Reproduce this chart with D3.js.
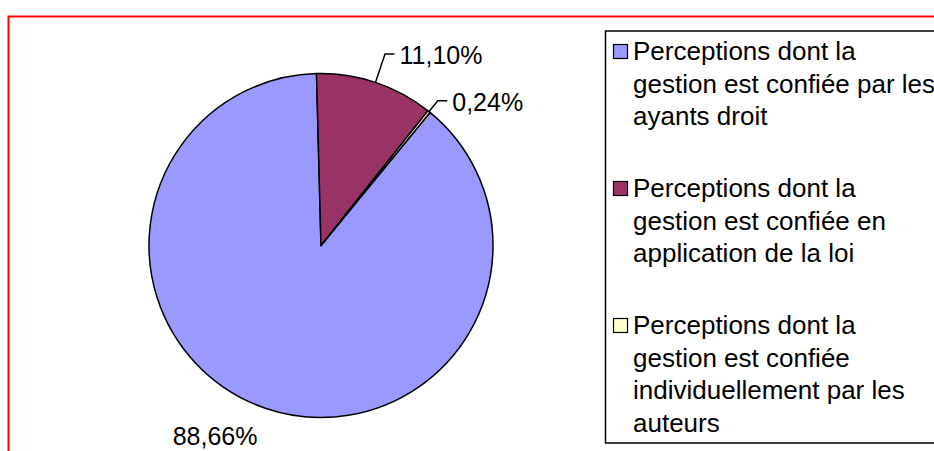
<!DOCTYPE html>
<html>
<head>
<meta charset="utf-8">
<script src="https://cdn.jsdelivr.net/npm/d3@7"></script>
<style>
  body { margin: 0; background: #fff; }
  svg { display: block; font-family: "Liberation Sans", Arial, sans-serif; }
</style>
</head>
<body>
<svg id="chart" width="934" height="451"></svg>
<script>
// data
let categories = [
    "Perceptions dont la gestion est confiée par les ayants droit",
    "Perceptions dont la gestion est confiée en application de la loi",
    "Perceptions dont la gestion est confiée individuellement par les auteurs"
];
let legendLines = [
    ["Perceptions dont la", "gestion est confiée par les", "ayants droit"],
    ["Perceptions dont la", "gestion est confiée en", "application de la loi"],
    ["Perceptions dont la", "gestion est confiée", "individuellement par les", "auteurs"]
];
let values = [88.66, 11.10, 0.24];
let valueLabels = ["88,66%", "11,10%", "0,24%"];
let colors = ["#9999FF", "#993366", "#FFFFCC"];

let width = 934, height = 451;
let cx = 321, cy = 245.5, radius = 172;
let svg = d3.select('#chart');

// red frame round the plot
svg.append('rect')
    .attr('x', 8.5).attr('y', 16.5)
    .attr('width', 960).attr('height', 480)
    .attr('fill', 'none')
    .attr('stroke', '#ff0000')
    .attr('stroke-width', 2);

// rotation so the purple slice starts just left of 12 o'clock
let start = 39.32 * Math.PI / 180;
let pie = d3.pie().sort(null).value(d => d)
    .startAngle(start).endAngle(start + 2 * Math.PI);
let arcs = pie(values);
let arc = d3.arc().innerRadius(0).outerRadius(radius);

let g = svg.append('g').attr('transform', `translate(${cx},${cy})`);

g.selectAll('.slice')
    .data(arcs)
    .enter().append('path')
    .attr('class', 'slice')
    .attr('d', arc)
    .attr('fill', (d, i) => colors[i])
    .attr('stroke', '#000')
    .attr('stroke-width', 1.5)
    .attr('stroke-linejoin', 'round');

function pt(angle, r){
    return [Math.sin(angle) * r, -Math.cos(angle) * r];
}

// labels: small slices get an elbow leader line, the big one sits off the rim
let leaderExtra = [null, 30, 14];
arcs.forEach((d, i) => {
    let mid = (d.startAngle + d.endAngle) / 2;
    if (leaderExtra[i] !== null){
        let p0 = pt(mid, radius);
        let p1 = pt(mid, radius + leaderExtra[i]);
        let hx = p1[0] + 9.5;
        g.append('polyline')
            .attr('points', [p0, p1, [hx, p1[1]]].map(p => p.join(',')).join(' '))
            .attr('fill', 'none')
            .attr('stroke', '#000')
            .attr('stroke-width', 1.5);
        g.append('text')
            .attr('x', hx + 5)
            .attr('y', p1[1] + 10.5)
            .attr('font-size', 25)
            .attr('fill', '#000')
            .text(valueLabels[i]);
    } else {
        let p = pt(mid, radius + 18);
        g.append('text')
            .attr('x', p[0] - 2)
            .attr('y', p[1] + 19.5)
            .attr('text-anchor', 'end')
            .attr('font-size', 25)
            .attr('fill', '#000')
            .text(valueLabels[i]);
    }
});

// legend
let legend = svg.append('g');
legend.append('rect')
    .attr('x', 605.5).attr('y', 31)
    .attr('width', 360).attr('height', 412)
    .attr('fill', '#fff')
    .attr('stroke', '#000')
    .attr('stroke-width', 1.5);

let blockTop = [60, 197, 334];
let lineH = 32.5;
legendLines.forEach((lines, i) => {
    let item = legend.append('g');
    item.append('rect')
        .attr('x', 613.5).attr('y', blockTop[i] - 15.5)
        .attr('width', 14).attr('height', 14)
        .attr('fill', colors[i])
        .attr('stroke', '#000')
        .attr('stroke-width', 1.2);
    item.append('text')
        .attr('font-size', 26)
        .attr('fill', '#000')
        .selectAll('tspan')
        .data(lines)
        .enter().append('tspan')
        .attr('x', 633)
        .attr('y', (l, j) => blockTop[i] + j * lineH)
        .text(l => l);
});
</script>
</body>
</html>
